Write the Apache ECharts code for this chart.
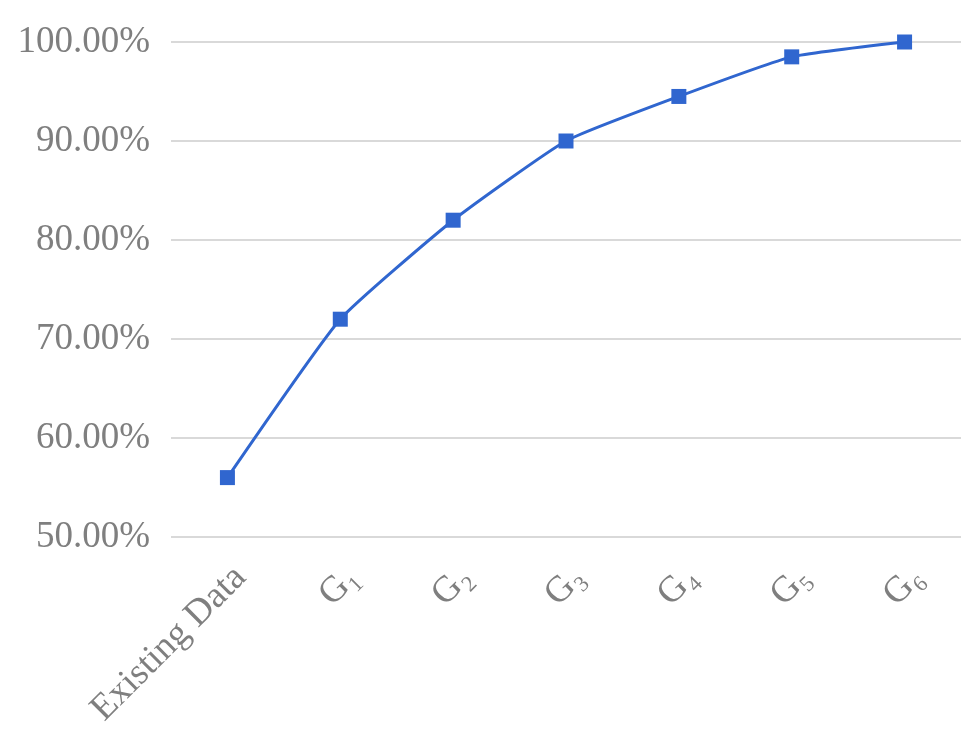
<!DOCTYPE html>
<html>
<head>
<meta charset="utf-8">
<script src="https://cdn.jsdelivr.net/npm/echarts@6/dist/echarts.min.js"></script>
<style>
  html, body { margin: 0; padding: 0; background: #fff; }
  #chart { width: 965px; height: 737px; }
</style>
</head>
<body>
<div id="chart"></div>
<script>
// categories on the x axis
var categories = ['Existing Data', 'G\u2081', 'G\u2082', 'G\u2083', 'G\u2084', 'G\u2085', 'G\u2086'];
// accuracy values (%)
var values = [56.0, 72.0, 82.0, 90.0, 94.5, 98.5, 100.0];
// y axis range
var yMin = 50;
var yMax = 100;
var yStep = 10;

var chart = echarts.init(document.getElementById('chart'));
var font = "'Liberation Serif', 'DejaVu Serif', serif";
var option = {
  animation: false,
  grid: { left: 171, right: 4, top: 42, bottom: 200, containLabel: false },
  xAxis: {
    type: 'category',
    data: categories,
    boundaryGap: true,
    axisLine: { show: false },
    axisTick: { show: false },
    axisLabel: {
      rotate: 45,
      margin: 22,
      verticalAlign: 'top',
      color: '#7f7f7f',
      fontFamily: font,
      fontSize: 37
    }
  },
  yAxis: {
    type: 'value',
    min: yMin,
    max: yMax,
    interval: yStep,
    axisLine: { show: false },
    axisTick: { show: false },
    axisLabel: {
      margin: 21,
      color: '#7f7f7f',
      fontFamily: font,
      fontSize: 37,
      formatter: function (v) { return v.toFixed(2) + '%'; }
    },
    splitLine: { lineStyle: { color: '#d9d9d9', width: 2 } }
  },
  series: [{
    type: 'line',
    data: values,
    smooth: 0.15,
    symbol: 'rect',
    symbolSize: 15,
    itemStyle: { color: '#3066cf' },
    lineStyle: { color: '#3066cf', width: 3 }
  }]
};
chart.setOption(option);
window.addEventListener('resize', function () { chart.resize(); });
</script>
</body>
</html>
